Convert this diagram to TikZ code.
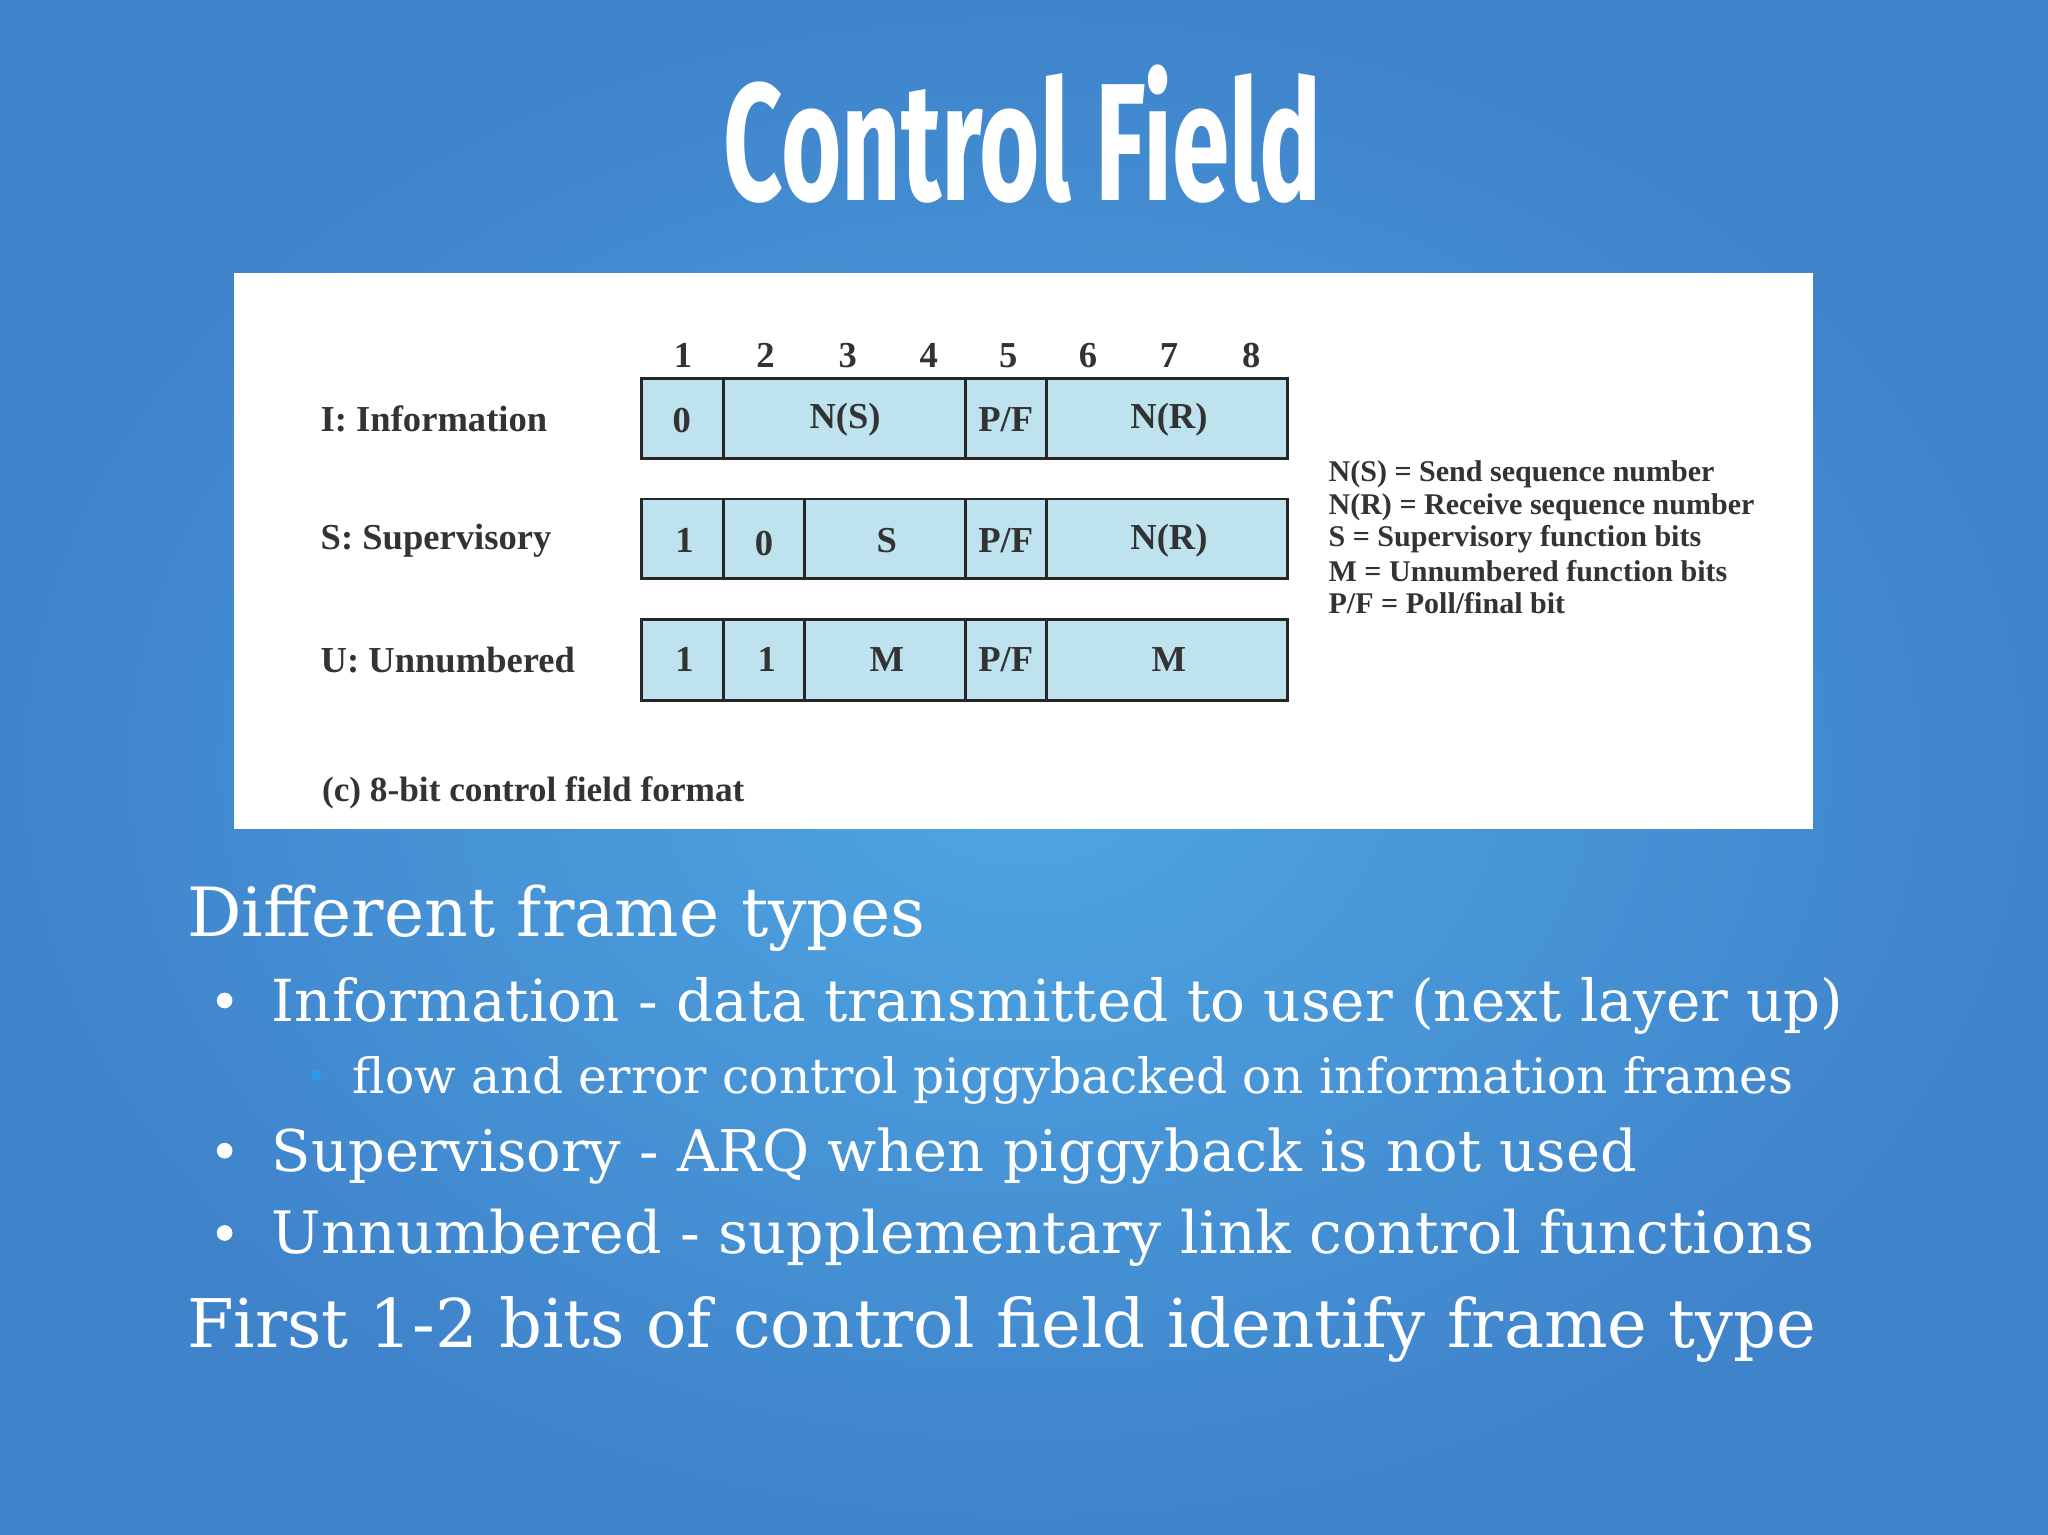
\documentclass[tikz,border=0pt]{standalone}
\usepackage{fontspec}
\setmainfont{DejaVu Serif}
\newfontfamily\titlefont{Fira Sans}
\newfontfamily\figfont{Liberation Serif}
\usetikzlibrary{positioning}
\definecolor{bgA}{HTML}{4FA6E2}
\definecolor{bgB}{HTML}{3F83CB}
\definecolor{cellc}{HTML}{BFE3EE}
\definecolor{subbul}{HTML}{2E9BEA}
\begin{document}
\begin{tikzpicture}[x=1pt,y=-1pt,
  cell/.style={draw=black!85,line width=2.2pt,fill=cellc},
  ftxt/.style={font=\figfont\bfseries\fontsize{28}{30}\selectfont,text=black!80},
  legt/.style={font=\figfont\bfseries\fontsize{23}{23}\selectfont,text=black!80,anchor=west,inner sep=0pt},
  body/.style={anchor=west,text=white,inner sep=0pt},
  bul/.style={circle,fill=#1,inner sep=0pt,minimum size=12pt}]
\useasboundingbox (0,0) rectangle (1568,1175);
\shade[inner color=bgA,outer color=bgB] (0,0) rectangle (1568,1175);
\node[text=white,font=\titlefont\bfseries\fontsize{128}{128}\selectfont] (title) at (783,103) {\scalebox{0.62}[1]{Control Field}};
\fill[white] (179,209) rectangle (1388,635);
% bit numbers
\foreach \x/\n [count=\i] in {523/1,586/2,649/3,711/4,772/5,833/6,895/7,958/8}
  \node[ftxt] (b\i) at (\x,272) {\n};
% rows
\foreach \ya/\yb/\nm in {290/351/I,382/443/S,474/536/U}{
  \draw[cell] (491,\ya) rectangle (986,\yb);
  \foreach \d in {554,739,801} \draw[draw=black!85,line width=2.2pt] (\d,\ya) -- (\d,\yb);
}
\foreach \y in {382,474} \draw[draw=black!85,line width=2.2pt] (616,\y) -- (616,\y+62);
\node[ftxt] (i0) at (522,322) {0};
\node[ftxt] (ins) at (647,321) {N(S)};
\node[ftxt] (ipf) at (770,321) {P/F};
\node[ftxt] (inr) at (895,321) {N(R)};
\node[ftxt] (s1) at (524,414) {1};
\node[ftxt] (s0) at (585,416) {0};
\node[ftxt] (ss) at (679,414) {S};
\node[ftxt] (spf) at (770,414) {P/F};
\node[ftxt] (snr) at (895,414) {N(R)};
\node[ftxt] (u1) at (524,505) {1};
\node[ftxt] (u1b) at (587,505) {1};
\node[ftxt] (um) at (679,505) {M};
\node[ftxt] (upf) at (770,505) {P/F};
\node[ftxt] (um2) at (895,505) {M};
\node[ftxt,anchor=west] (li) at (242,321) {I: Information};
\node[ftxt,anchor=west] (ls) at (242,414) {S: Supervisory};
\node[ftxt,anchor=west] (lu) at (242,505) {U: Unnumbered};
\node[ftxt,anchor=west,font=\figfont\bfseries\fontsize{27}{29}\selectfont] (cap) at (243,607) {(c) 8-bit control field format};
\node[legt] (g1) at (1017,363) {N(S) = Send sequence number};
\node[legt] (g2) at (1017,388) {N(R) = Receive sequence number};
\node[legt] (g3) at (1017,413) {S = Supervisory function bits};
\node[legt] (g4) at (1017,437) {M = Unnumbered function bits};
\node[legt] (g5) at (1017,462) {P/F = Poll/final bit};
% body
\node[body,font=\fontsize{52}{54}\selectfont] (t1) at (143,703) {Different frame types};
\node[bul=white] (bu1) at (172,766) {};
\node[body,font=\fontsize{44.4}{46}\selectfont] (t2) at (208,770) {Information - data transmitted to user (next layer up)};
\node[bul=subbul,minimum size=8pt] (bu2) at (242,823) {};
\node[body,font=\fontsize{37.3}{39}\selectfont] (t3) at (270,827) {flow and error control piggybacked on information frames};
\node[bul=white] (bu3) at (172,881) {};
\node[body,font=\fontsize{44}{46}\selectfont] (t4) at (208,885) {Supervisory - ARQ when piggyback is not used};
\node[bul=white] (bu4) at (172,944) {};
\node[body,font=\fontsize{44.8}{46}\selectfont] (t5) at (208,948) {Unnumbered - supplementary link control functions};
\node[body,font=\fontsize{51.4}{53}\selectfont] (t6) at (143,1018) {First 1-2 bits of control field identify frame type};
\end{tikzpicture}
\end{document}
